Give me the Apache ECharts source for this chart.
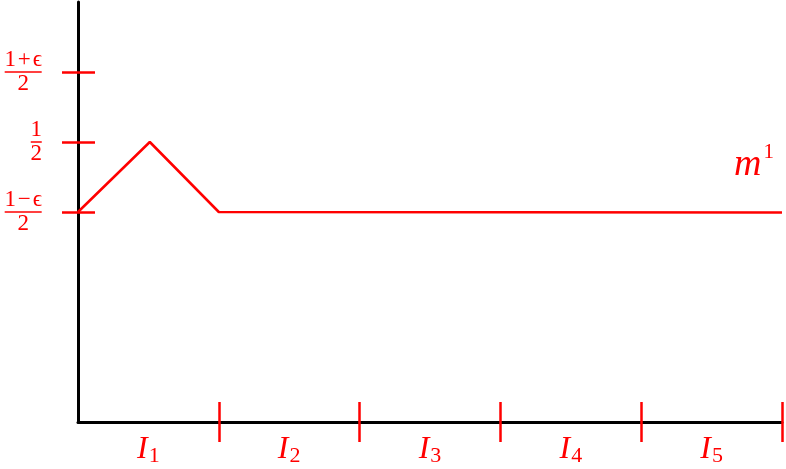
<!DOCTYPE html>
<html>
<head>
<meta charset="utf-8">
<script src="https://cdn.jsdelivr.net/npm/echarts@6/dist/echarts.min.js"></script>
<style>html,body{margin:0;padding:0;background:#fff;}#c{width:786px;height:469px;}</style>
</head>
<body>
<div id="c"></div>
<script>
// Data
var intervalBoundaries = [1, 2, 3, 4, 5];
var intervalCenters = [0.5, 1.5, 2.5, 3.5, 4.5];
var intervalLabels = ['1', '2', '3', '4', '5'];
var yTickValues = [0.375, 0.5, 0.625];
var yTickLabels = ['1\u200A\u2212\u200Aϵ', '1', '1\u200A+\u200Aϵ'];
var lineX = [0, 0.51, 1, 5];
var lineY = [0.375, 0.5, 0.375, 0.374];
var seriesName = 'm';
var seriesSup = '1';

var RED = '#ff0000';
var SERIF = 'Liberation Serif';

var chart = echarts.init(document.getElementById('c'), null, {renderer: 'canvas'});

function yFmt(v) {
  var i = yTickValues.indexOf(v);
  if (i < 0) return '';
  var num = yTickLabels[i];
  var bar = num.length > 1 ? 'bw' : 'bn';
  return '{n|' + num + '}\n{' + bar + '| }\n{d|2}';
}
function xFmt(v) {
  var i = -1;
  for (var k = 0; k < intervalCenters.length; k++) if (Math.abs(intervalCenters[k] - v) < 1e-6) i = k;
  if (i < 0) return '';
  return '{i|I}{s|' + intervalLabels[i] + '}';
}

var option = {
  animation: false,
  backgroundColor: '#fff',
  grid: {left: 78, right: 4, top: 2, bottom: 47, containLabel: false},
  xAxis: [
    {
      type: 'value', min: 0, max: 5, position: 'bottom',
      splitLine: {show: false},
      axisLine: {show: true, lineStyle: {color: '#000', width: 3}},
      axisTick: {show: true, inside: false, length: 20, customValues: intervalBoundaries, lineStyle: {color: RED, width: 2.5}},
      axisLabel: {
        show: true, customValues: intervalCenters, formatter: xFmt, margin: 12,
        fontFamily: SERIF, fontSize: 30, color: RED,
        rich: {
          i: {fontFamily: SERIF, fontStyle: 'italic', fontSize: 32, color: RED, lineHeight: 32},
          s: {fontFamily: SERIF, fontSize: 22, color: RED, padding: [12, 0, 0, 1], lineHeight: 32}
        }
      }
    },
    {
      type: 'value', min: 0, max: 5, position: 'bottom',
      splitLine: {show: false},
      axisLine: {show: false},
      axisTick: {show: true, inside: true, length: 20, customValues: intervalBoundaries, lineStyle: {color: RED, width: 2.5}},
      axisLabel: {show: false}
    }
  ],
  yAxis: [
    {
      type: 'value', min: 0, max: 0.75, position: 'left',
      splitLine: {show: false},
      axisLine: {show: true, lineStyle: {color: '#000', width: 3}},
      axisTick: {show: true, inside: false, length: 16, customValues: yTickValues, lineStyle: {color: RED, width: 2.5}},
      axisLabel: {
        show: true, customValues: yTickValues, formatter: yFmt, margin: 36,
        fontFamily: SERIF, fontSize: 23, color: RED,
        rich: {
          n: {fontFamily: SERIF, fontSize: 23, color: RED, align: 'center', lineHeight: 20},
          d: {fontFamily: SERIF, fontSize: 23, color: RED, align: 'center', lineHeight: 20},
          bw: {width: 37, height: 1.5, lineHeight: 4, backgroundColor: RED, align: 'center'},
          bn: {width: 11, height: 1.5, lineHeight: 4, backgroundColor: RED, align: 'center'}
        }
      }
    },
    {
      type: 'value', min: 0, max: 0.75, position: 'left',
      splitLine: {show: false},
      axisLine: {show: false},
      axisTick: {show: true, inside: true, length: 17, customValues: yTickValues, lineStyle: {color: RED, width: 2.5}},
      axisLabel: {show: false}
    }
  ],
  series: [
    {
      type: 'line', xAxisIndex: 0, yAxisIndex: 0,
      data: lineX.map(function (x, i) { return [x, lineY[i]]; }),
      showSymbol: false, symbol: 'none',
      lineStyle: {color: RED, width: 2.5},
      clip: false,
      endLabel: {
        show: true, offset: [-56, -48],
        formatter: '{m|' + seriesName + '}{s|' + seriesSup + '}',
        rich: {
          m: {fontFamily: SERIF, fontStyle: 'italic', fontSize: 38, color: RED, lineHeight: 40},
          s: {fontFamily: SERIF, fontSize: 21, color: RED, padding: [0, 0, 24, 2], lineHeight: 40}
        }
      }
    }
  ]
};
chart.setOption(option);
</script>
</body>
</html>
